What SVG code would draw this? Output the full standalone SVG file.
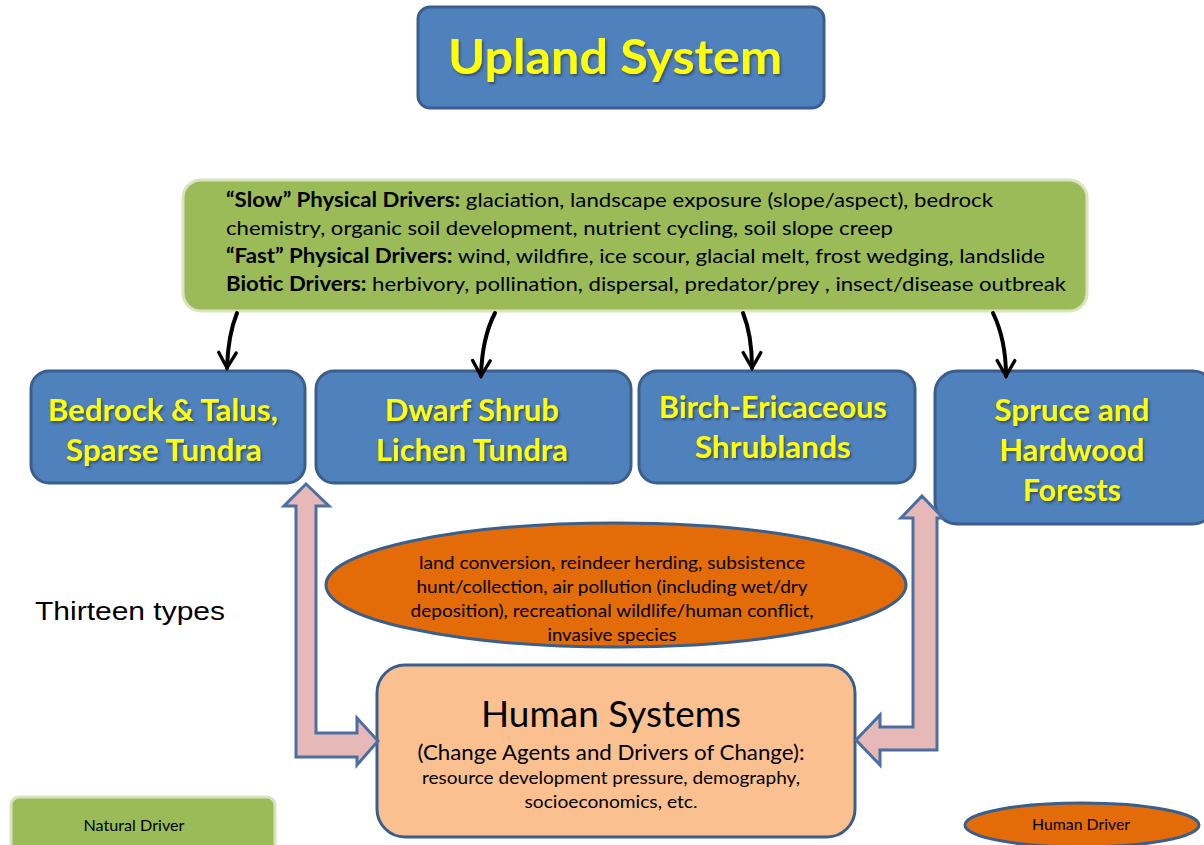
<svg xmlns="http://www.w3.org/2000/svg" width="1204" height="845" viewBox="0 0 1204 845">
  <style>
    .blue { fill: #4F81BD; stroke: #3A5F8D; stroke-width: 3; }
    .green { fill: #9BBB59; stroke: #D7E4BD; stroke-width: 3; }
    .orange { fill: #E36C09; stroke: #3A5F8D; stroke-width: 3; }
    .peach { fill: #FAC090; stroke: #3A5F8D; stroke-width: 3; }
    .pink { fill: #E6B9B8; stroke: #4A6FA0; stroke-width: 3; stroke-linejoin: miter; }
    .title { font-family: Lato, "Open Sans", sans-serif; font-weight: bold; fill: #FFFF00; text-anchor: middle; filter: url(#shadow); }
    .body { font-family: Lato, "Open Sans", sans-serif; fill: #000; }
    .mid { text-anchor: middle; }
    .curve { fill: none; stroke: #000; stroke-width: 4; stroke-linecap: round; }
  </style>
  <defs>
    <filter id="shadow" x="-10%" y="-20%" width="120%" height="150%">
      <feDropShadow dx="1.5" dy="2" stdDeviation="1" flood-color="#1F2F45" flood-opacity="0.6"/>
    </filter>
    <marker id="vhead" viewBox="0 0 20 20" refX="17" refY="10" markerWidth="5.5" markerHeight="5.5" orient="auto" markerUnits="strokeWidth">
      <path d="M3,2 L17,10 L3,18" fill="none" stroke="#000" stroke-width="3" stroke-linecap="round" stroke-linejoin="miter"/>
    </marker>
  </defs>

  <rect width="1204" height="845" fill="#FFFFFF"/>

  <!-- heading -->
  <g id="upland-system">
    <rect class="blue" x="418" y="7" width="406" height="101" rx="12"/>
    <text class="title" x="615" y="74" font-size="48" textLength="334" lengthAdjust="spacingAndGlyphs">Upland System</text>
  </g>

  <!-- natural drivers -->
  <g id="natural-drivers">
    <rect class="green" x="183" y="180" width="904" height="131" rx="18"/>
    <g class="body" font-size="20">
      <text x="226" y="207" textLength="767" lengthAdjust="spacingAndGlyphs"><tspan font-weight="bold">“Slow” Physical Drivers:</tspan> glaciation, landscape exposure (slope/aspect), bedrock</text>
      <text x="226" y="235" textLength="667" lengthAdjust="spacingAndGlyphs">chemistry, organic soil development, nutrient cycling, soil slope creep</text>
      <text x="226" y="263" textLength="819" lengthAdjust="spacingAndGlyphs"><tspan font-weight="bold">“Fast” Physical Drivers:</tspan> wind, wildfire, ice scour, glacial melt, frost wedging, landslide</text>
      <text x="226" y="291" textLength="840" lengthAdjust="spacingAndGlyphs"><tspan font-weight="bold">Biotic Drivers:</tspan> herbivory, pollination, dispersal, predator/prey , insect/disease outbreak</text>
    </g>
  </g>

  <!-- ecosystem types -->
  <g id="bedrock-talus">
    <rect class="blue" x="31" y="371" width="274" height="112" rx="18"/>
    <text class="title" x="163" y="421" font-size="30" textLength="230" lengthAdjust="spacingAndGlyphs">Bedrock &amp; Talus,</text>
    <text class="title" x="164" y="461" font-size="30" textLength="196" lengthAdjust="spacingAndGlyphs">Sparse Tundra</text>
  </g>
  <g id="dwarf-shrub">
    <rect class="blue" x="316" y="371" width="315" height="112" rx="18"/>
    <text class="title" x="472" y="421" font-size="30" textLength="174" lengthAdjust="spacingAndGlyphs">Dwarf Shrub</text>
    <text class="title" x="472" y="461" font-size="30" textLength="192" lengthAdjust="spacingAndGlyphs">Lichen Tundra</text>
  </g>
  <g id="birch-ericaceous">
    <rect class="blue" x="639" y="371" width="276" height="112" rx="18"/>
    <text class="title" x="773" y="418" font-size="30" textLength="228" lengthAdjust="spacingAndGlyphs">Birch-Ericaceous</text>
    <text class="title" x="773" y="458" font-size="30" textLength="156" lengthAdjust="spacingAndGlyphs">Shrublands</text>
  </g>
  <g id="spruce-hardwood">
    <rect class="blue" x="935" y="371" width="280" height="153" rx="22"/>
    <text class="title" x="1072" y="421" font-size="30" textLength="155" lengthAdjust="spacingAndGlyphs">Spruce and</text>
    <text class="title" x="1072" y="461" font-size="30" textLength="145" lengthAdjust="spacingAndGlyphs">Hardwood</text>
    <text class="title" x="1072" y="501" font-size="30" textLength="98" lengthAdjust="spacingAndGlyphs">Forests</text>
  </g>

  <!-- human drivers -->
  <g id="human-drivers">
    <ellipse class="orange" cx="616" cy="585" rx="290" ry="62"/>
    <g class="body mid" font-size="17">
      <text x="612" y="569" textLength="386" lengthAdjust="spacingAndGlyphs">land conversion,  reindeer herding, subsistence</text>
      <text x="612" y="593" textLength="391" lengthAdjust="spacingAndGlyphs">hunt/collection, air pollution (including wet/dry</text>
      <text x="612" y="617" textLength="403" lengthAdjust="spacingAndGlyphs">deposition), recreational wildlife/human conflict,</text>
      <text x="612" y="641" textLength="129" lengthAdjust="spacingAndGlyphs">invasive species</text>
    </g>
  </g>

  <g id="human-systems">
    <rect class="peach" x="377" y="665" width="478" height="172" rx="28"/>
    <g class="body mid">
      <text x="611" y="727" font-size="36" textLength="260" lengthAdjust="spacingAndGlyphs">Human Systems</text>
      <text x="611" y="760" font-size="21" textLength="387" lengthAdjust="spacingAndGlyphs">(Change Agents and Drivers of Change):</text>
      <text x="611" y="784" font-size="17" textLength="378" lengthAdjust="spacingAndGlyphs">resource development pressure, demography,</text>
      <text x="611" y="808" font-size="17" textLength="173" lengthAdjust="spacingAndGlyphs">socioeconomics, etc.</text>
    </g>
  </g>

  <g id="thirteen-types">
    <text x="35" y="620" font-family="'Liberation Sans', Arial, sans-serif" font-size="26" textLength="190" lengthAdjust="spacingAndGlyphs">Thirteen types</text>
  </g>

  <!-- legend -->
  <g id="legend-natural">
    <rect class="green" x="11" y="797" width="264" height="60" rx="8"/>
    <text class="body mid" x="134" y="831" font-size="15" textLength="101" lengthAdjust="spacingAndGlyphs">Natural Driver</text>
  </g>
  <g id="legend-human">
    <ellipse class="orange" cx="1082" cy="825" rx="117" ry="22"/>
    <text class="body mid" x="1081" y="830" font-size="15" textLength="98" lengthAdjust="spacingAndGlyphs">Human Driver</text>
  </g>

  <!-- connectors -->
  <g id="connectors">
    <path class="curve" d="M237,313 Q228,335 227,368" marker-end="url(#vhead)"/>
    <path class="curve" d="M495,313 Q482,338 481,376" marker-end="url(#vhead)"/>
    <path class="curve" d="M743,313 Q752,335 752,368" marker-end="url(#vhead)"/>
    <path class="curve" d="M993,313 Q1006,340 1006,376" marker-end="url(#vhead)"/>

    <!-- two-way arrow: bedrock & talus to and from human systems -->
    <path class="pink" d="M306,484 L329,506 L316,506 L316,733 L357,733 L357,718 L378,741 L357,765 L357,757 L296,757 L296,506 L284,506 Z"/>
    <!-- two-way arrow: spruce & hardwood to and from human systems -->
    <path class="pink" d="M922,496 L943,518 L937,518 L937,750 L880,750 L880,765 L856,740 L880,715 L880,727 L913,727 L913,518 L901,518 Z"/>
  </g>
</svg>
